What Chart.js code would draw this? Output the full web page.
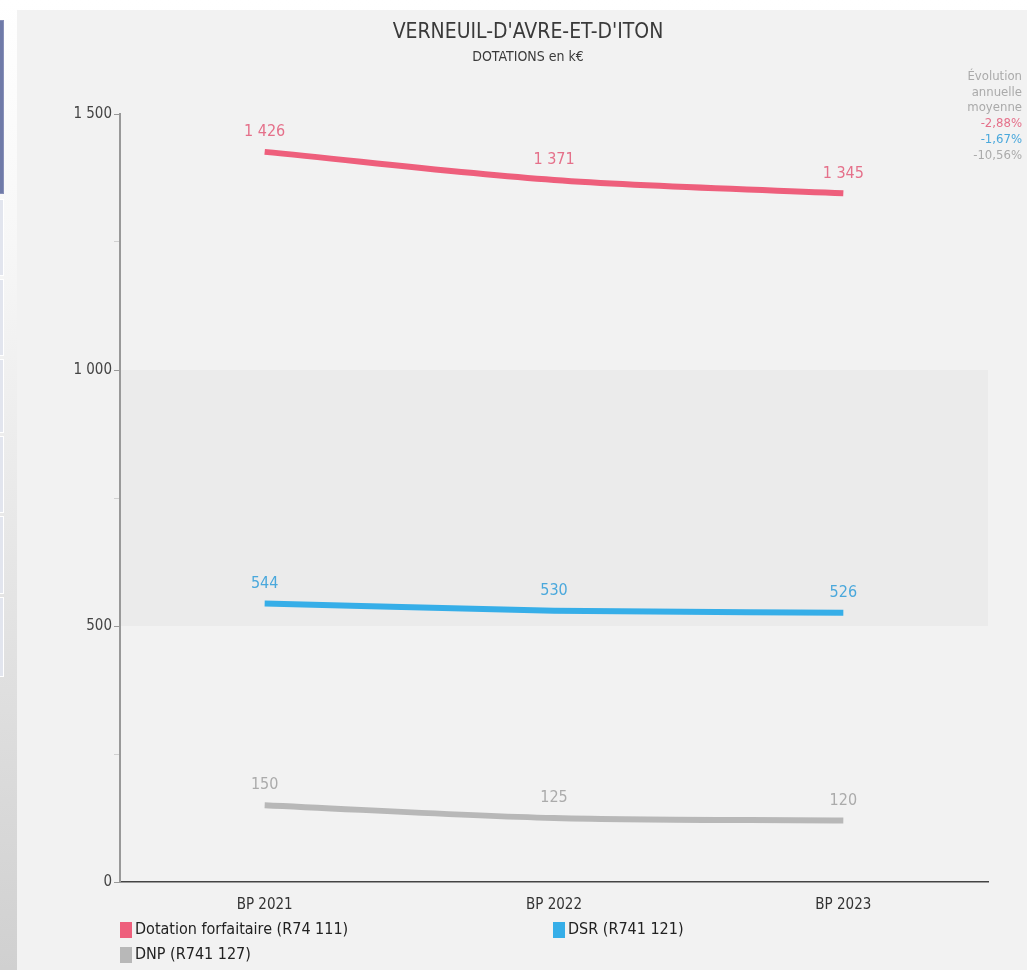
<!DOCTYPE html>
<html>
<head>
<meta charset="utf-8">
<script src="https://cdn.jsdelivr.net/npm/chart.js@4/dist/chart.umd.min.js"></script>
<style>
    body { margin: 0; width: 1027px; height: 970px; overflow: hidden; position: relative;
           background: linear-gradient(#ffffff, #f7f7f7 25%, #d0d0d0); }
    #panel { position: absolute; left: 17px; top: 10px; width: 1010px; height: 960px; background: #f2f2f2; }
    .side { position: absolute; left: 0; width: 3px; background: #e2e5ee; border: 1px solid #fff; border-left: none; }
</style>
</head>
<body>
<div class="side" style="top:20px;height:172px;background:#6f7aa8;border-color:#8890b8"></div>
<div class="side" style="top:199px;height:75px"></div>
<div class="side" style="top:279px;height:75px"></div>
<div class="side" style="top:359px;height:72px"></div>
<div class="side" style="top:436px;height:75px"></div>
<div class="side" style="top:516px;height:76px"></div>
<div class="side" style="top:597px;height:78px"></div>
<div id="panel"><canvas id="myChart" width="1010" height="960"></canvas></div>
<script>
    const categories = ['BP 2021', 'BP 2022', 'BP 2023'];
    const dotationForfaitaire = [1426, 1371, 1345];
    const dsr = [544, 530, 526];
    const dnp = [150, 125, 120];
    const seriesLabels = ['Dotation forfaitaire (R74 111)', 'DSR (R741 121)', 'DNP (R741 127)'];
    const evolution = ['-2,88%', '-1,67%', '-10,56%'];

    const FONT = "'Liberation Sans Narrow', 'DejaVu Sans Condensed', 'Roboto Condensed', sans-serif";
    Chart.defaults.font.family = FONT;

    // espace comme séparateur de milliers
    function formatNombre(v) {
        return String(v).replace(/\B(?=(\d{3})+(?!\d))/g, ' ');
    }

    const couleurs = ['#ee5f7c', '#36aee8', '#b8b8b8'];
    const couleursTexte = ['#e5708a', '#4aa8dc', '#ababab'];

    // bande grise entre 500 et 1000
    const bande = {
        id: 'bande',
        beforeDraw(chart) {
            const { ctx, chartArea, scales: { y } } = chart;
            const haut = y.getPixelForValue(1000);
            const bas = y.getPixelForValue(500);
            ctx.save();
            ctx.fillStyle = '#ebebeb';
            ctx.fillRect(chartArea.left + 1, haut, chartArea.right - chartArea.left - 1, bas - haut);
            ctx.restore();
        },
    };

    const textes = {
        id: 'textes',
        afterDraw(chart) {
            const ctx = chart.ctx;
            ctx.save();
            // titre
            ctx.textAlign = 'center';
            ctx.textBaseline = 'middle';
            ctx.fillStyle = '#3a3a3a';
            ctx.font = '21px ' + FONT;
            ctx.fillText("VERNEUIL-D'AVRE-ET-D'ITON", 511, 23);
            ctx.font = '14px ' + FONT;
            ctx.fillText('DOTATIONS en k€', 511, 47);

            // étiquettes des points
            ctx.font = '16px ' + FONT;
            chart.data.datasets.forEach(function (ds, i) {
                ctx.fillStyle = couleursTexte[i];
                chart.getDatasetMeta(i).data.forEach(function (pt, j) {
                    ctx.fillText(formatNombre(ds.data[j]), pt.x, pt.y - 20);
                });
            });

            // évolution annuelle moyenne
            ctx.textAlign = 'right';
            ctx.font = '13px ' + FONT;
            ctx.fillStyle = '#aaaaaa';
            ['Évolution', 'annuelle', 'moyenne'].forEach(function (t, k) {
                ctx.fillText(t, 1005, 67 + k * 15.5);
            });
            evolution.forEach(function (t, k) {
                ctx.fillStyle = couleursTexte[k];
                ctx.fillText(t, 1005, 114 + k * 16);
            });

            // légende
            const pos = [[103, 920], [536, 920], [103, 945]];
            ctx.textAlign = 'left';
            ctx.font = '16px ' + FONT;
            seriesLabels.forEach(function (lab, k) {
                ctx.fillStyle = couleurs[k];
                ctx.fillRect(pos[k][0], pos[k][1] - 8, 12, 16);
                ctx.fillStyle = '#222';
                ctx.fillText(lab, pos[k][0] + 15, pos[k][1]);
            });
            ctx.restore();
        },
    };

    const ctx = document.getElementById('myChart').getContext('2d');
    window.myChart = new Chart(ctx, {
        type: 'line',
        data: {
            labels: categories,
            datasets: [dotationForfaitaire, dsr, dnp].map(function (values, i) {
                return {
                    label: seriesLabels[i],
                    data: values,
                    borderColor: couleurs[i],
                    backgroundColor: couleurs[i],
                    borderWidth: 6,
                    pointRadius: 0,
                    cubicInterpolationMode: 'monotone',
                    fill: false,
                };
            }),
        },
        plugins: [bande, textes],
        options: {
            responsive: false,
            animation: false,
            layout: { padding: { left: 0, top: 104, right: 39, bottom: 58 } },
            plugins: {
                legend: { display: false },
                title: { display: false },
                tooltip: { enabled: false },
            },
            scales: {
                x: {
                    offset: true,
                    afterFit: function (s) { s.height = 30; },
                    grid: { display: false },
                    border: { color: '#444', width: 1.5 },
                    ticks: { color: '#333', font: { size: 15 }, padding: 6 },
                },
                y: {
                    min: 0,
                    max: 1500,
                    afterFit: function (s) { s.width = 103; },
                    border: { color: '#999', width: 2 },
                    grid: {
                        drawOnChartArea: false,
                        tickLength: 6,
                        color: function (c) { return c.tick && c.tick.value % 500 ? '#d0d0d0' : '#999'; },
                    },
                    ticks: {
                        stepSize: 250,
                        color: '#444',
                        font: { size: 15 },
                        padding: 2,
                        callback: function (v) { return v % 500 === 0 ? formatNombre(v) : ''; },
                    },
                },
            },
        },
    });
</script>
</body>
</html>
